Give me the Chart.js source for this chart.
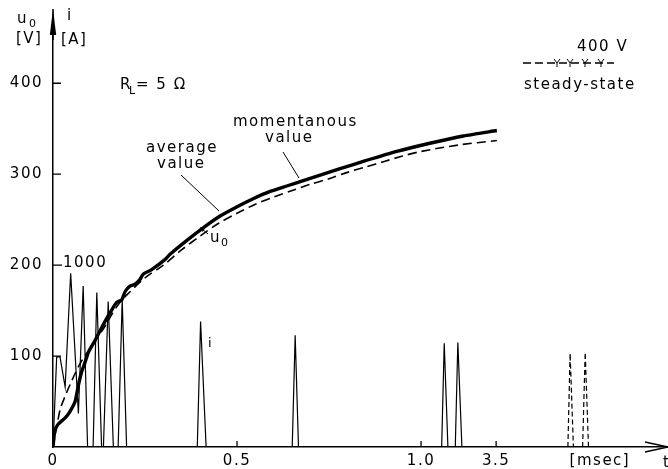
<!DOCTYPE html>
<html><head><meta charset="utf-8">
<script src="https://cdn.jsdelivr.net/npm/chart.js@4/dist/chart.umd.min.js"></script>
<style>html,body{margin:0;padding:0;background:#fff;overflow:hidden}canvas{display:block}</style>
</head><body><canvas id="c" width="668" height="469"></canvas>
<script>
// x values are axis positions: 1 unit = 1 ms from 0 to 1.0; the broken stretch 1.0 … 3.5 ms is compressed
const xTickValues = [0, 0.5, 1.0, 1.204, 1.486];
const xTickLabels = ['0', '0.5', '1.0', '3.5', '[msec]'];
const yTickValues = [100, 200, 300, 400];   // u0 [V]
const iTickValues = [1000];                 // i [A]

// u0, momentanous value (thick line)
const tMomentary = [0, 0.005, 0.014, 0.033, 0.046, 0.060, 0.069, 0.078, 0.087, 0.096, 0.114, 0.137, 0.160, 0.173, 0.187, 0.196, 0.209, 0.223, 0.236, 0.245, 0.268, 0.304, 0.318, 0.363, 0.408, 0.454, 0.499, 0.544, 0.590, 0.635, 0.680, 0.726, 0.780, 0.843, 0.934, 1.024, 1.115, 1.206];
const uMomentary = [0, 18, 25, 32, 39, 50, 68, 83, 93, 104, 117, 135, 151, 159, 162, 171, 177, 179, 184, 190, 195, 206, 212, 227, 241, 254, 264, 273, 281, 287, 293, 299, 306, 314, 325, 334, 342, 348];

// u0, average value (dashed line)
const tAverage = [0, 0.01, 0.02, 0.035, 0.05, 0.065, 0.08, 0.10, 0.12, 0.14, 0.16, 0.18, 0.20, 0.25, 0.30, 0.35, 0.40, 0.45, 0.50, 0.55, 0.60, 0.65, 0.70, 0.75, 0.80, 0.85, 0.90, 0.95, 1.00, 1.10, 1.206];
const uAverage = [0, 22, 42, 58, 72, 85, 96, 108, 120, 132, 146, 158, 167, 186, 200, 217, 232, 246, 257, 267, 275, 282, 289, 295, 302, 308, 314, 320, 325, 332, 337];

// i [A], transient current pulses
const tCurrent = [0, 0.010, 0.019, 0.033, 0.048, 0.069, 0.082, 0.094, 0.109, 0.119, 0.132, 0.137, 0.150, 0.164, 0.177, 0.188, 0.200, 0.392, 0.401, 0.416, 0.650, 0.658, 0.667, 1.056, 1.063, 1.073, 1.093, 1.100, 1.111];
const iCurrent = [0, 495, 495, 330, 955, 185, 885, 0, 0, 850, 0, 0, 800, 0, 0, 810, 0, 0, 690, 0, 0, 615, 0, 0, 570, 0, 0, 575, 0];

// i [A], steady-state pulses (dashed)
const tSteady = [1.399, 1.405, 1.414, 1.426, 1.439, 1.446, 1.455];
const iSteady = [0, 515, 0, null, 0, 520, 0];

const FONT = '"DejaVu Sans", sans-serif';
const pts = (xs, ys) => xs.map((x, k) => ({x: x, y: ys[k]}));

const annot = {
  id: 'annot',
  beforeDraw(chart) { chart.ctx.letterSpacing = '1.5px'; },
  afterDraw(chart) {
    const ctx = chart.ctx, xs = chart.scales.x, ys = chart.scales.y, is = chart.scales.yI;
    const L = chart.chartArea.left, B = chart.chartArea.bottom;
    ctx.save();
    ctx.strokeStyle = '#000'; ctx.fillStyle = '#000'; ctx.lineWidth = 1.3;
    // inward ticks
    ctx.beginPath();
    yTickValues.forEach(v => { const y = ys.getPixelForValue(v); ctx.moveTo(L, y); ctx.lineTo(L + 8, y); });
    iTickValues.forEach(v => { const y = is.getPixelForValue(v); ctx.moveTo(L, y); ctx.lineTo(L + 9, y); });
    xTickValues.slice(1, 4).forEach(v => { const x = xs.getPixelForValue(v); ctx.moveTo(x, B); ctx.lineTo(x, B - 6); });
    ctx.stroke();
    // y arrow
    ctx.beginPath(); ctx.moveTo(L, 9); ctx.lineTo(L - 3.2, 35); ctx.lineTo(L + 3.2, 35); ctx.closePath(); ctx.fill();
    ctx.beginPath(); ctx.moveTo(L, 9); ctx.lineTo(L, 40); ctx.lineWidth = 1.5; ctx.stroke();
    // x arrow
    ctx.beginPath(); ctx.moveTo(645, B - 5); ctx.lineTo(668, B); ctx.lineTo(645, B + 5); ctx.lineWidth = 1.3; ctx.stroke();

    const txt = (s, x, y, size, align) => {
      ctx.font = size + 'px ' + FONT; ctx.textAlign = align || 'left'; ctx.textBaseline = 'middle'; ctx.fillText(s, x, y);
    };
    // axis titles
    txt('u', 17, 19, 15); txt('0', 29, 24, 11);
    txt('[V]', 16, 39, 15);
    txt('i', 67, 16, 15);
    txt('[A]', 61, 40, 15);
    txt('1000', L + 10, is.getPixelForValue(1000) - 2, 15);
    txt('t', 663, 463, 15);
    // R_L
    txt('R', 120, 85, 15); txt('L', 129, 91, 11); txt('= 5 Ω', 136, 85, 15);
    // legend top right
    txt('400 V', 577, 47, 15);
    ctx.save(); ctx.setLineDash([8, 4]); ctx.lineWidth = 1.3;
    ctx.beginPath(); ctx.moveTo(523, 63); ctx.lineTo(614, 63); ctx.stroke(); ctx.restore();
    ctx.lineWidth = 1;
    ctx.beginPath();
    [557, 570, 585, 601].forEach(x => { ctx.moveTo(x - 3, 59); ctx.lineTo(x, 63); ctx.lineTo(x + 3, 59); ctx.moveTo(x, 63); ctx.lineTo(x, 67); });
    ctx.stroke();
    txt('steady-state', 524, 85, 15);
    // curve labels
    txt('average', 146, 148, 15); txt('value', 157, 164, 15);
    txt('momentanous', 233, 122, 15); txt('value', 265, 138, 15);
    ctx.lineWidth = 1;
    ctx.beginPath(); ctx.moveTo(181, 175); ctx.lineTo(219, 211); ctx.moveTo(283, 152); ctx.lineTo(299, 178); ctx.stroke();
    txt('u', 210, 238, 15); txt('0', 221, 243, 11);
    ctx.beginPath(); ctx.moveTo(208, 234); ctx.lineTo(201, 228); ctx.stroke();
    ctx.beginPath(); ctx.moveTo(200, 227); ctx.lineTo(205, 228.5); ctx.lineTo(202.5, 232); ctx.closePath(); ctx.fill();
    txt('i', 208, 344, 13);
    ctx.restore();
  }
};

new Chart(document.getElementById('c'), {
  type: 'line',
  data: {
    datasets: [
      {label: 'i', data: pts(tCurrent, iCurrent), yAxisID: 'yI', borderColor: '#000', borderWidth: 1.2, pointRadius: 0, tension: 0},
      {label: 'i steady-state', data: pts(tSteady, iSteady), yAxisID: 'yI', borderColor: '#000', borderWidth: 1.2, borderDash: [5, 3], pointRadius: 0, tension: 0, spanGaps: false},
      {label: 'average value', data: pts(tAverage, uAverage), yAxisID: 'y', borderColor: '#000', borderWidth: 1.6, borderDash: [9, 5], pointRadius: 0, tension: 0.3},
      {label: 'momentanous value', data: pts(tMomentary, uMomentary), yAxisID: 'y', borderColor: '#000', borderWidth: 3.4, pointRadius: 0, tension: 0.2, borderJoinStyle: 'round'}
    ]
  },
  options: {
    responsive: false, animation: false, devicePixelRatio: 1,
    layout: {padding: {top: 14, left: 0, right: 0, bottom: 0}},
    plugins: {legend: {display: false}, tooltip: {enabled: false}},
    scales: {
      x: {
        type: 'linear', min: 0, max: 1.671,
        afterBuildTicks(s) { s.ticks = xTickValues.map(v => ({value: v})); },
        afterFit(s) { s.height = 22; },
        ticks: {autoSkip: false, maxRotation: 0, padding: 5, color: '#000', font: {family: FONT, size: 15},
          callback: (v) => xTickLabels[xTickValues.indexOf(v)]},
        grid: {display: false, drawTicks: false},
        border: {display: true, color: '#000', width: 1.5}
      },
      y: {
        type: 'linear', min: 0, max: 470.65,
        afterBuildTicks(s) { s.ticks = yTickValues.map(v => ({value: v})); },
        afterFit(s) { s.width = 53; },
        ticks: {padding: 10, color: '#000', font: {family: FONT, size: 15}, callback: (v) => String(v)},
        grid: {display: false, drawTicks: false},
        border: {display: true, color: '#000', width: 1.5}
      },
      yI: {type: 'linear', min: 0, max: 2353.25, display: false}
    }
  },
  plugins: [annot]
});
</script>
</body></html>
